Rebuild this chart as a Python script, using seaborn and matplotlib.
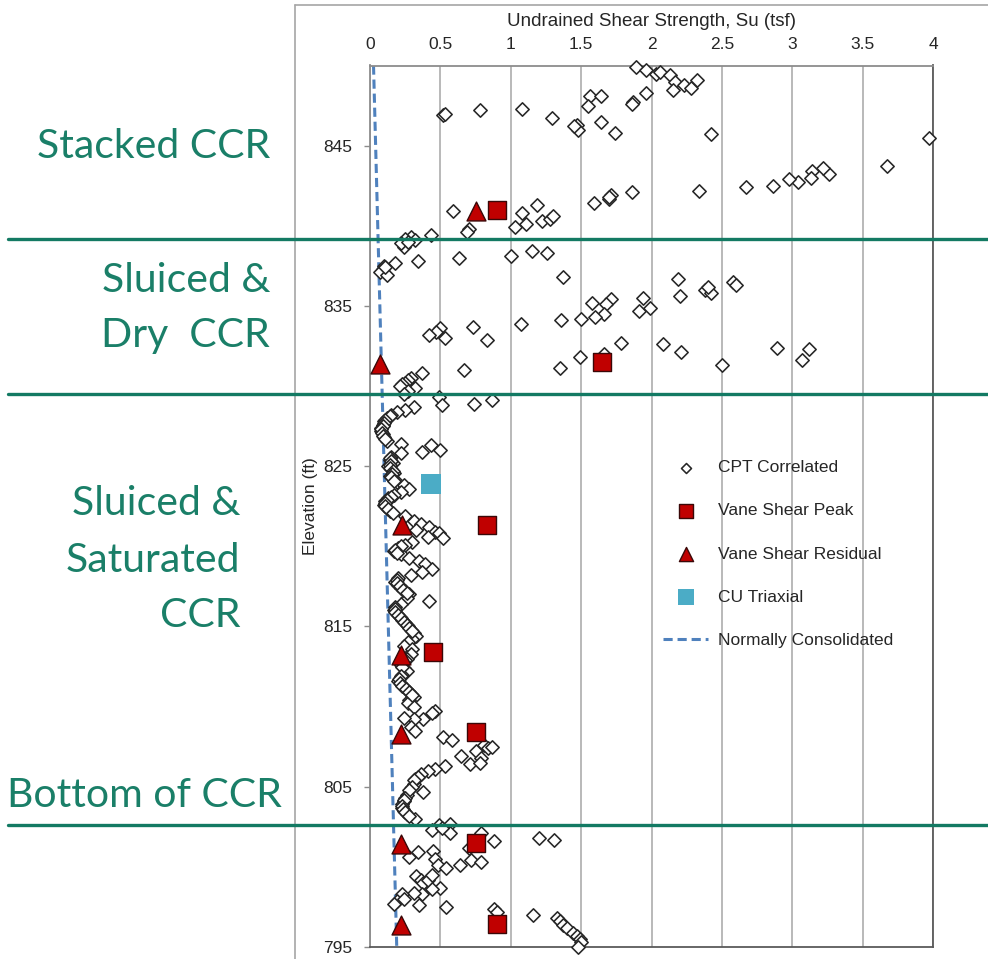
import numpy as np
import pandas as pd
import matplotlib
matplotlib.use("Agg")
import matplotlib.pyplot as plt
import matplotlib.transforms as mtransforms
from matplotlib.lines import Line2D
from matplotlib.ticker import FuncFormatter
import seaborn as sns

# CPT correlated Su (tsf), elevation (ft), by zone
cpt_stacked = [
    (1.89, 849.9), (1.96, 849.7), (2.03, 849.5), (2.06, 849.6), (2.13, 849.4), (2.17, 849.0),
    (2.15, 848.5), (2.23, 848.8), (2.28, 848.6), (2.32, 849.1), (1.96, 848.3), (1.87, 847.7),
    (1.86, 847.6), (1.56, 848.1), (1.64, 848.1), (1.55, 847.5), (1.64, 846.5), (1.74, 845.8),
    (1.47, 846.3), (1.48, 846.0), (1.45, 846.2), (1.29, 846.7), (1.08, 847.3), (0.78, 847.2),
    (0.52, 846.9), (0.53, 847.0), (2.42, 845.7), (3.97, 845.5),
    (3.67, 843.7), (3.26, 843.2), (3.22, 843.6), (3.14, 843.4), (3.13, 843.0), (3.04, 842.7),
    (2.98, 842.9), (2.86, 842.5), (2.67, 842.4), (2.34, 842.2), (1.86, 842.1), (1.71, 841.9),
    (1.70, 841.7), (1.70, 841.8), (1.59, 841.4), (1.19, 841.3), (1.08, 840.8), (1.11, 840.1),
    (1.03, 839.9), (1.22, 840.3), (1.28, 840.4), (1.30, 840.6), (0.59, 840.9), (0.70, 839.8),
    (0.69, 839.6), (0.43, 839.4), (0.29, 839.3), (0.25, 839.2),
]
cpt_dry = [
    (0.32, 839.1), (0.24, 838.7), (0.22, 838.9), (0.27, 839.0), (0.18, 837.7), (0.10, 837.5),
    (0.09, 837.3), (0.07, 837.1), (0.12, 836.9), (0.11, 837.4), (0.34, 837.8), (0.63, 838.0),
    (1.00, 838.1), (1.15, 838.4), (1.26, 838.3), (1.37, 836.8), (2.19, 836.7), (2.20, 835.6),
    (2.38, 836.0), (2.42, 835.8), (2.40, 836.2), (2.58, 836.5), (2.60, 836.3), (1.58, 835.2),
    (1.71, 835.4), (1.68, 835.1), (1.66, 834.5), (1.60, 834.3), (1.50, 834.2), (1.36, 834.1),
    (1.94, 835.5), (1.91, 834.7), (1.99, 834.9), (1.07, 833.9), (0.73, 833.7), (0.50, 833.6),
    (0.47, 833.4), (0.42, 833.2), (0.53, 833.0), (0.83, 832.9), (1.78, 832.7), (2.08, 832.6),
    (2.21, 832.1), (2.89, 832.4), (3.12, 832.3), (3.07, 831.6), (2.50, 831.3), (1.49, 831.8),
    (1.35, 831.1), (1.66, 832.0), (0.67, 831.0), (0.37, 830.8), (0.29, 830.5), (0.27, 830.4),
    (0.25, 830.2), (0.23, 830.1), (0.21, 830.0), (0.32, 829.9),
]
cpt_saturated = [
    (0.27, 829.7), (0.24, 829.5), (0.49, 829.3), (0.87, 829.1), (0.74, 828.9), (0.51, 828.8),
    (0.31, 828.7), (0.25, 828.5), (0.19, 828.4), (0.15, 828.2), (0.12, 828.0), (0.10, 827.8),
    (0.09, 827.6), (0.08, 827.4), (0.08, 827.2), (0.09, 827.0), (0.10, 826.8), (0.12, 826.6),
    (0.22, 826.4), (0.43, 826.3), (0.50, 826.0), (0.37, 825.9), (0.22, 825.8), (0.15, 825.6),
    (0.14, 825.4), (0.16, 825.2), (0.13, 825.0), (0.15, 824.8), (0.17, 824.6), (0.14, 824.4),
    (0.16, 824.2), (0.19, 824.0), (0.24, 823.8), (0.28, 823.6), (0.22, 823.4), (0.17, 823.2),
    (0.13, 823.0), (0.11, 822.8), (0.10, 822.6), (0.12, 822.4), (0.14, 822.2), (0.25, 821.9),
    (0.31, 821.6), (0.36, 821.4), (0.42, 821.2), (0.33, 821.0), (0.46, 820.9), (0.49, 820.8),
    (0.41, 820.6), (0.52, 820.5), (0.30, 820.3), (0.25, 820.1), (0.20, 819.9), (0.17, 819.7),
    (0.22, 819.5), (0.28, 819.3), (0.35, 819.1), (0.39, 818.9), (0.44, 818.6), (0.37, 818.4),
    (0.29, 818.2), (0.20, 818.0), (0.18, 817.8), (0.20, 817.6), (0.22, 817.4), (0.25, 817.2),
    (0.28, 817.0), (0.26, 816.8), (0.42, 816.6), (0.22, 816.4), (0.18, 816.2), (0.17, 816.0),
    (0.19, 815.8), (0.21, 815.6), (0.23, 815.4), (0.25, 815.2), (0.27, 815.0), (0.29, 814.8),
    (0.31, 814.6), (0.33, 814.4), (0.30, 814.2), (0.27, 814.0), (0.24, 813.8), (0.30, 813.6),
    (0.29, 813.3), (0.26, 813.0), (0.24, 812.8), (0.22, 812.6), (0.24, 812.4), (0.26, 812.2),
    (0.23, 812.0), (0.21, 811.8), (0.20, 811.6), (0.22, 811.4), (0.24, 811.2), (0.27, 811.0),
    (0.29, 810.8), (0.31, 810.6), (0.28, 810.4), (0.27, 810.2), (0.31, 810.0), (0.46, 809.7),
    (0.44, 809.6), (0.38, 809.2), (0.31, 809.2), (0.24, 809.3), (0.29, 808.7), (0.32, 808.5),
    (0.52, 808.1), (0.58, 807.9), (0.65, 806.9), (0.71, 806.4), (0.75, 807.2), (0.81, 807.6),
    (0.84, 807.4), (0.87, 807.5), (0.79, 806.8), (0.78, 806.5), (0.53, 806.3), (0.46, 806.1),
    (0.41, 806.0), (0.36, 805.8), (0.32, 805.5), (0.31, 805.2), (0.29, 804.9), (0.38, 804.7),
    (0.26, 804.5), (0.24, 804.1), (0.23, 803.9), (0.23, 803.7), (0.24, 803.5), (0.26, 803.3),
    (0.32, 803.0), (0.49, 802.6), (0.57, 802.7),
]
# extra readings inside the dark, overlapping parts of the saturated profile
cpt_saturated_dense = [
    (0.14, 828.1), (0.11, 827.9), (0.10, 827.7), (0.09, 827.5), (0.08, 827.3), (0.085, 827.1),
    (0.095, 826.9), (0.11, 826.7), (0.145, 825.5), (0.15, 825.3), (0.14, 825.1), (0.14, 824.9),
    (0.16, 824.7), (0.155, 824.5), (0.15, 824.3), (0.17, 824.1), (0.15, 823.1), (0.12, 822.9),
    (0.105, 822.7), (0.11, 822.5), (0.13, 822.3), (0.16, 822.1), (0.22, 820.0), (0.18, 819.8),
    (0.19, 819.6), (0.19, 817.9), (0.19, 817.7), (0.21, 817.5), (0.235, 817.3), (0.265, 817.1),
    (0.175, 816.1), (0.18, 815.9), (0.20, 815.7), (0.22, 815.5), (0.24, 815.3), (0.26, 815.1),
    (0.28, 814.9), (0.30, 814.7), (0.25, 812.9), (0.23, 812.7), (0.23, 812.5), (0.22, 811.9),
    (0.205, 811.7), (0.21, 811.5), (0.23, 811.3), (0.255, 811.1), (0.28, 810.9), (0.30, 810.7),
    (0.34, 805.6), (0.315, 805.4), (0.30, 805.0), (0.28, 804.8), (0.25, 804.3), (0.245, 804.2),
    (0.23, 803.8), (0.235, 803.6), (0.25, 803.4), (0.28, 803.2),
]
cpt_bottom = [
    (0.79, 802.1), (0.88, 801.6), (0.70, 801.2), (1.20, 801.8), (1.31, 801.7), (0.34, 800.9),
    (0.28, 800.6), (0.45, 801.0), (0.46, 800.5), (0.48, 800.1), (0.54, 799.9), (0.64, 800.1),
    (0.72, 800.4), (0.79, 800.3), (0.33, 799.4), (0.36, 799.2), (0.38, 799.0), (0.41, 799.2),
    (0.44, 799.5), (0.50, 798.7), (0.44, 798.6), (0.37, 798.3), (0.31, 798.4), (0.23, 798.3),
    (0.19, 797.9), (0.17, 797.7), (0.24, 798.0), (0.35, 797.6), (0.54, 797.5), (0.88, 797.4),
    (0.90, 797.2), (1.16, 797.0), (1.33, 796.8), (1.35, 796.6), (1.37, 796.4), (1.40, 796.2),
    (1.44, 795.9), (1.47, 795.7), (1.49, 795.5), (1.50, 795.3), (1.48, 795.0), (0.57, 802.1),
    (0.44, 802.3), (0.51, 802.4),
]

vane_peak_su = [0.90, 1.65, 0.83, 0.45, 0.75, 0.75, 0.90]
vane_peak_elev = [841.0, 831.5, 821.3, 813.4, 808.4, 801.5, 796.45]
vane_resid_su = [0.75, 0.07, 0.23, 0.22, 0.22, 0.22, 0.22]
vane_resid_elev = [840.9, 831.4, 821.3, 813.25, 808.3, 801.4, 796.4]
cu_triax_su = [0.43]
cu_triax_elev = [823.9]
nc_su = [0.025, 0.19]
nc_elev = [850.0, 795.0]

# zone boundaries (elevation) and labels
zone_bounds = [839.2, 829.5, 802.6]
zone_labels = ["Stacked CCR", "Sluiced &", "Dry  CCR", "Sluiced &", "Saturated", "CCR", "Bottom of CCR"]

cpt = pd.DataFrame(cpt_stacked + cpt_dry + cpt_saturated + cpt_saturated_dense + cpt_bottom,
                   columns=["su", "elev"])

sns.set_style("white")
plt.rcParams["font.family"] = ["Liberation Sans", "DejaVu Sans"]

W, H = 988, 959
fig = plt.figure(figsize=(W / 100, H / 100), dpi=100)
ax = fig.add_axes([370 / W, 1 - 947 / H, 563 / W, (947 - 65.5) / H])

red = "#c00000"
green = "#137a63"

sns.scatterplot(data=cpt, x="su", y="elev", marker="D", s=46, color="white",
                edgecolor="#262626", linewidth=1.15, label="CPT Correlated",
                clip_on=False, zorder=3, ax=ax)
sns.scatterplot(x=vane_peak_su, y=vane_peak_elev, marker="s", s=170, color=red,
                edgecolor="#3a0808", linewidth=1.0, label="Vane Shear Peak",
                clip_on=False, zorder=5, ax=ax)
sns.scatterplot(x=vane_resid_su, y=vane_resid_elev, marker="^", s=185, color=red,
                edgecolor="#3a0808", linewidth=1.0, label="Vane Shear Residual",
                clip_on=False, zorder=5, ax=ax)
sns.scatterplot(x=cu_triax_su, y=cu_triax_elev, marker="s", s=225, color="#4bacc6",
                linewidth=0, label="CU Triaxial", zorder=4, ax=ax)
sns.lineplot(x=nc_su, y=nc_elev, sort=False, estimator=None, color="#4f81bd",
             linewidth=2.2, linestyle=(0, (3, 1.6)), label="Normally Consolidated",
             zorder=2, ax=ax)

ax.set_xlim(0, 4)
ax.set_ylim(795, 850)
ax.set_xticks(np.arange(0, 4.01, 0.5))
ax.set_yticks(np.arange(795, 846, 10))
ax.xaxis.set_major_formatter(FuncFormatter(lambda v, p: "%g" % v))
ax.xaxis.tick_top()
ax.xaxis.set_label_position("top")
ax.tick_params(axis="x", length=0, pad=10, labelsize=12.5)
ax.tick_params(axis="y", left=True, length=4.5, width=1, color="#8c8c8c", pad=8, labelsize=12.5)
ax.set_xlabel("Undrained Shear Strength, Su (tsf)", fontsize=13.5, labelpad=8)
ax.set_ylabel("Elevation (ft)", fontsize=12.5)
ax.yaxis.set_label_coords(-0.092, 0.5)

ax.grid(axis="x", color="#a6a6a6", linewidth=1.1)
ax.grid(axis="y", visible=False)
ax.set_axisbelow(True)
for side, col in [("left", "#8c8c8c"), ("top", "#8c8c8c"), ("right", "#5a5a5a"), ("bottom", "#5a5a5a")]:
    ax.spines[side].set_visible(True)
    ax.spines[side].set_color(col)
    ax.spines[side].set_linewidth(1.3)

handles, labels = ax.get_legend_handles_labels()
ax.legend(handles, labels, loc="upper left", bbox_to_anchor=(663 / W, 1 - 460 / H),
          bbox_transform=fig.transFigure, frameon=False, fontsize=12.5,
          markerscale=0.75, handlelength=2.6, handletextpad=0.55, labelspacing=1.62,
          borderpad=0, borderaxespad=0)

# chart-area frame
fig.add_artist(Line2D([295 / W, 295 / W], [0, 1 - 5 / H], transform=fig.transFigure,
                      color="#a6a6a6", lw=1.2))
fig.add_artist(Line2D([295 / W, 1], [1 - 5 / H, 1 - 5 / H], transform=fig.transFigure,
                      color="#a6a6a6", lw=1.2))

# zone divider lines across the whole figure
trans = mtransforms.blended_transform_factory(fig.transFigure, ax.transData)
for e in zone_bounds:
    fig.add_artist(Line2D([8 / W, 1], [e, e], transform=trans, color=green, lw=2.4, zorder=6))

# zone labels (right edge x px, baseline y px)
label_pos = [(270, 158), (270, 292), (270, 347), (240, 515), (240, 572), (240, 627), (282, 807)]
for txt, (px, py) in zip(zone_labels, label_pos):
    fig.text(px / W, 1 - py / H, txt, ha="right", va="baseline", fontsize=29.5,
             family=["Lato", "DejaVu Sans"], color="#1a7f68")

fig.savefig("out.png", dpi=100)
